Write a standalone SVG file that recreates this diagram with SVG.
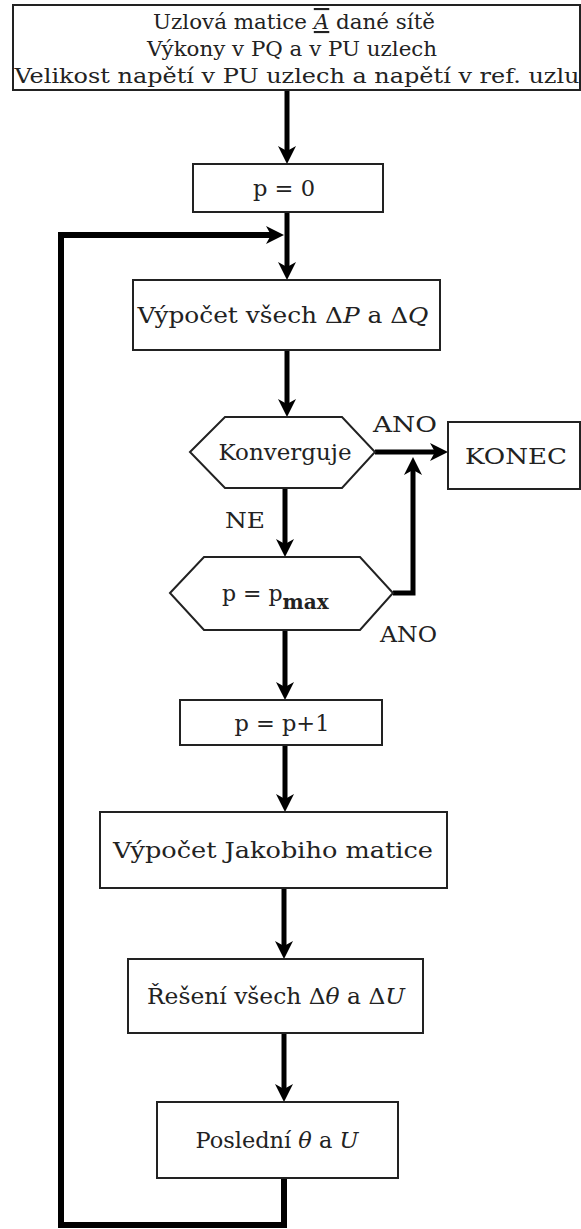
<svg xmlns="http://www.w3.org/2000/svg" width="581" height="1229" viewBox="0 0 581 1229">
  <style>
    .box { fill: #ffffff; stroke: #222222; stroke-width: 2; }
    .t { font-family: "DejaVu Serif", "Liberation Serif", serif; font-size: 22px; fill: #222222; text-anchor: middle; }
    .hd { font-size: 21px; }
    .lbl { font-family: "DejaVu Serif", "Liberation Serif", serif; font-size: 22px; fill: #222222; }
    .it { font-style: italic; }
    .wire { fill: none; stroke: #000000; stroke-width: 5; stroke-linejoin: miter; }
    .loop { fill: none; stroke: #000000; stroke-width: 6; stroke-linejoin: miter; }
    .ah { fill: #000000; }
  </style>
  <defs>
    <!-- arrowhead pointing down, tip at the origin -->
    <path id="ah" d="M0,0 L-9,-18 L0,-13 L9,-18 Z"/>
  </defs>
  <rect width="581" height="1229" fill="#ffffff"/>

  <!-- connectors -->
  <g id="connectors">
    <line class="wire" x1="287" y1="90" x2="287" y2="152"/>
    <use href="#ah" class="ah" transform="translate(287,164)"/>
    <line class="wire" x1="287" y1="212" x2="287" y2="268"/>
    <use href="#ah" class="ah" transform="translate(287,280)"/>
    <polyline class="loop" points="284,1178 284,1225 61,1225 61,235 272,235"/>
    <use href="#ah" class="ah" transform="translate(284,235) rotate(-90)"/>
    <line class="wire" x1="287" y1="350" x2="287" y2="405"/>
    <use href="#ah" class="ah" transform="translate(287,417)"/>
    <line class="wire" x1="375" y1="452" x2="436" y2="452"/>
    <use href="#ah" class="ah" transform="translate(448,452) rotate(-90)"/>
    <line class="wire" x1="285" y1="488" x2="285" y2="545"/>
    <use href="#ah" class="ah" transform="translate(285,557)"/>
    <polyline class="wire" points="393,593 413,593 413,469"/>
    <use href="#ah" class="ah" transform="translate(413,457) rotate(180)"/>
    <line class="wire" x1="285" y1="630" x2="285" y2="688"/>
    <use href="#ah" class="ah" transform="translate(285,700)"/>
    <line class="wire" x1="285" y1="745" x2="285" y2="800"/>
    <use href="#ah" class="ah" transform="translate(285,812)"/>
    <line class="wire" x1="284" y1="888" x2="284" y2="947"/>
    <use href="#ah" class="ah" transform="translate(284,959)"/>
    <line class="wire" x1="284" y1="1033" x2="284" y2="1090"/>
    <use href="#ah" class="ah" transform="translate(284,1102)"/>
  </g>

  <!-- input data -->
  <g id="input">
    <rect class="box" x="13" y="5" width="567" height="85"/>
    <text class="t hd" x="294" y="29" textLength="282" lengthAdjust="spacingAndGlyphs">Uzlová matice <tspan class="it" style="text-decoration: underline overline">A</tspan> dané sítě</text>
    <text class="t hd" x="292" y="56" textLength="290" lengthAdjust="spacingAndGlyphs">Výkony v PQ a v PU uzlech</text>
    <text class="t hd" x="297" y="83" textLength="565" lengthAdjust="spacingAndGlyphs">Velikost napětí v PU uzlech a napětí v ref. uzlu</text>
  </g>

  <g id="init">
    <rect class="box" x="193" y="164" width="190" height="48"/>
    <text class="t" x="284" y="196" textLength="62" lengthAdjust="spacingAndGlyphs">p = 0</text>
  </g>

  <g id="mismatch">
    <rect class="box" x="133" y="280" width="307" height="70"/>
    <text class="t" x="283" y="323" textLength="291" lengthAdjust="spacingAndGlyphs">Výpočet všech Δ<tspan class="it">P</tspan> a Δ<tspan class="it">Q</tspan></text>
  </g>

  <g id="converge">
    <polygon class="box" points="190,452 225,417 342,417 375,452 342,488 225,488"/>
    <text class="t" x="285" y="460" textLength="133" lengthAdjust="spacingAndGlyphs">Konverguje</text>
  </g>

  <g id="end">
    <rect class="box" x="448" y="422" width="132" height="67"/>
    <text class="lbl" x="465" y="464" textLength="102" lengthAdjust="spacingAndGlyphs">KONEC</text>
  </g>

  <g id="limit">
    <polygon class="box" points="170,593 204,557 360,557 393,593 360,630 204,630"/>
    <text class="lbl" x="222" y="601">p = p<tspan font-size="20" font-weight="bold" dy="8">max</tspan></text>
  </g>

  <g id="labels">
    <text class="lbl" x="373" y="432" textLength="64" lengthAdjust="spacingAndGlyphs">ANO</text>
    <text class="lbl" x="225" y="528" textLength="40" lengthAdjust="spacingAndGlyphs">NE</text>
    <text class="lbl" x="380" y="642" textLength="57" lengthAdjust="spacingAndGlyphs">ANO</text>
  </g>

  <g id="increment">
    <rect class="box" x="180" y="700" width="202" height="45"/>
    <text class="t" x="282" y="731" textLength="95" lengthAdjust="spacingAndGlyphs">p = p+1</text>
  </g>

  <g id="jacobian">
    <rect class="box" x="100" y="812" width="347" height="76"/>
    <text class="t" x="273" y="858" textLength="320" lengthAdjust="spacingAndGlyphs">Výpočet Jakobiho matice</text>
  </g>

  <g id="solve">
    <rect class="box" x="128" y="959" width="295" height="74"/>
    <text class="t" x="276" y="1004" textLength="258" lengthAdjust="spacingAndGlyphs">Řešení všech Δ<tspan class="it">θ</tspan> a Δ<tspan class="it">U</tspan></text>
  </g>

  <g id="update">
    <rect class="box" x="157" y="1102" width="241" height="76"/>
    <text class="t" x="277" y="1148" textLength="163" lengthAdjust="spacingAndGlyphs">Poslední <tspan class="it">θ</tspan> a <tspan class="it">U</tspan></text>
  </g>
</svg>
